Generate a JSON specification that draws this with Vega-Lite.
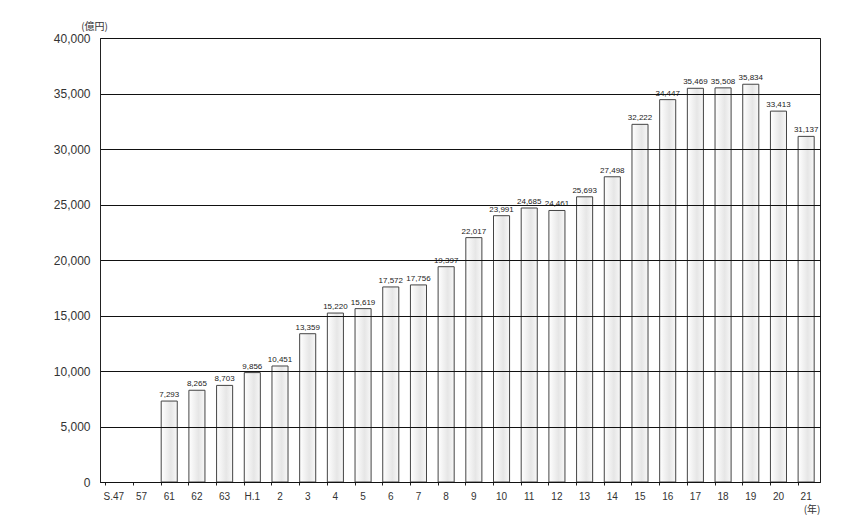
{
  "$schema": "https://vega.github.io/schema/vega-lite/v6.json",
  "autosize": "none",
  "width": 720,
  "height": 444,
  "padding": {"left": 100, "top": 38, "right": 33, "bottom": 36},
  "background": "white",
  "data": {
    "values": [
      {"year": "S.47", "value": null},
      {"year": "57", "value": null},
      {"year": "61", "value": 7293},
      {"year": "62", "value": 8265},
      {"year": "63", "value": 8703},
      {"year": "H.1", "value": 9856},
      {"year": "2", "value": 10451},
      {"year": "3", "value": 13359},
      {"year": "4", "value": 15220},
      {"year": "5", "value": 15619},
      {"year": "6", "value": 17572},
      {"year": "7", "value": 17756},
      {"year": "8", "value": 19397},
      {"year": "9", "value": 22017},
      {"year": "10", "value": 23991},
      {"year": "11", "value": 24685},
      {"year": "12", "value": 24461},
      {"year": "13", "value": 25693},
      {"year": "14", "value": 27498},
      {"year": "15", "value": 32222},
      {"year": "16", "value": 34447},
      {"year": "17", "value": 35469},
      {"year": "18", "value": 35508},
      {"year": "19", "value": 35834},
      {"year": "20", "value": 33413},
      {"year": "21", "value": 31137}
    ]
  },
  "config": {
    "view": {"stroke": "#222", "strokeWidth": 1},
    "font": "Liberation Sans"
  },
  "encoding": {
    "x": {
      "field": "year", "type": "nominal", "sort": null,
      "scale": {
        "domain": ["S.47", "57", "61", "62", "63", "H.1", "2", "3", "4", "5", "6", "7", "8", "9", "10", "11", "12", "13", "14", "15", "16", "17", "18", "19", "20", "21"],
        "paddingInner": 0.42, "paddingOuter": 0.21
      },
      "axis": {
        "title": "(年)", "titleFont": "Noto Sans CJK JP", "titleFontSize": 10, "titleFontWeight": "normal",
        "titleColor": "#333", "titleAnchor": "end", "titleAlign": "right", "titlePadding": 3,
        "labelAngle": 0, "labelFontSize": 10, "labelColor": "#333", "labelPadding": 6,
        "domainColor": "#222", "tickColor": "#222", "tickSize": 3, "bandPosition": 0
      }
    },
    "y": {
      "field": "value", "type": "quantitative",
      "scale": {"domain": [0, 40000], "nice": false},
      "axis": {
        "title": "(億円)", "titleFont": "Noto Sans CJK JP", "titleFontSize": 10, "titleFontWeight": "normal",
        "titleColor": "#333", "titleAngle": 0, "titleX": -6, "titleY": -7, "titleAlign": "center", "titleBaseline": "bottom",
        "values": [0, 5000, 10000, 15000, 20000, 25000, 30000, 35000, 40000],
        "format": ",.0f", "labelFontSize": 12, "labelColor": "#333", "labelPadding": 10,
        "grid": true, "gridColor": "#111", "gridWidth": 1, "gridOpacity": 1,
        "ticks": false, "domainColor": "#222", "zindex": 1
      }
    }
  },
  "layer": [
    {
      "mark": {
        "type": "bar",
        "fill": {"gradient": "linear", "x1": 0, "x2": 1, "y1": 0, "y2": 0,
          "stops": [{"offset": 0, "color": "#ffffff"}, {"offset": 0.6, "color": "#e6e6e6"}, {"offset": 1, "color": "#f8f8f8"}]},
        "stroke": "#444", "strokeWidth": 1
      }
    },
    {
      "transform": [{"filter": "datum.value != null"}],
      "mark": {"type": "text", "dy": -6, "fontSize": 8, "color": "#222"},
      "encoding": {"text": {"field": "value", "type": "quantitative", "format": ","}}
    }
  ]
}
